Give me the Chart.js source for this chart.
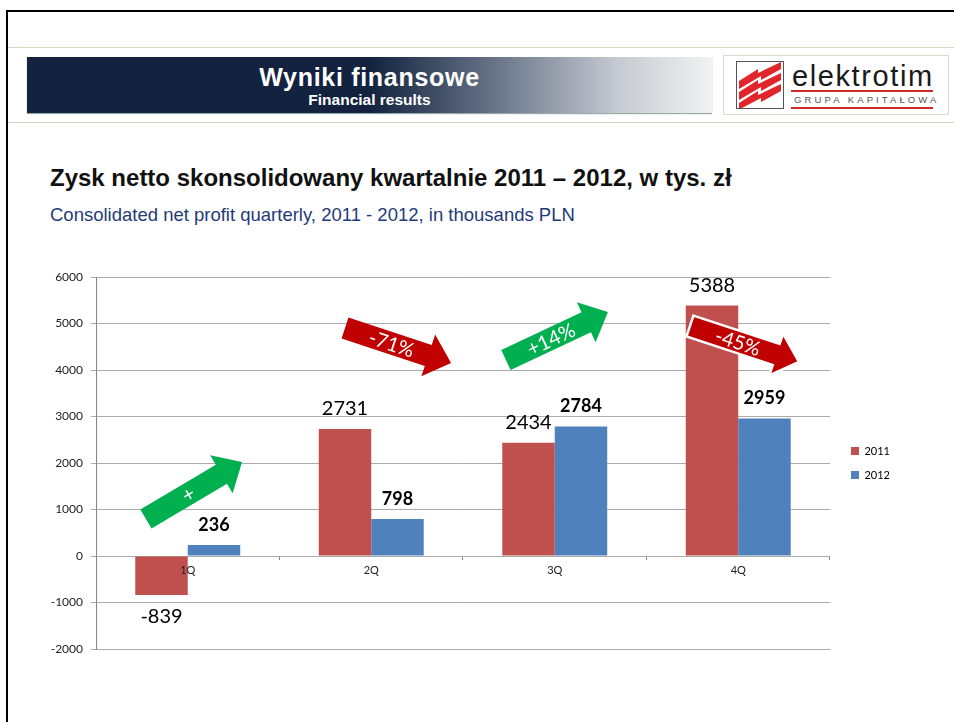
<!DOCTYPE html>
<html>
<head>
<meta charset="utf-8">
<script src="https://cdn.jsdelivr.net/npm/chart.js@4.4.1/dist/chart.umd.min.js"></script>
<style>
  html, body { margin: 0; padding: 0; background: #fff; }
  body { width: 954px; height: 722px; position: relative; overflow: hidden; font-family: "Liberation Sans", Arial, sans-serif; }
  .frame-top { position: absolute; left: 6px; top: 10px; width: 948px; height: 2px; background: #000; }
  .frame-left { position: absolute; left: 6px; top: 10px; width: 2px; height: 712px; background: #000; }
  .rule { position: absolute; left: 8px; width: 946px; height: 1px; background: #d9d5c3; }
  .banner { position: absolute; left: 27px; top: 57px; width: 685px; height: 56px;
    background: linear-gradient(to right, #13233f 0%, #13233f 50%, #6b778a 69%, #c5c9d0 86%, #f2f2f2 100%);
    box-shadow: 0 1px 1px #9aa; color: #fff; text-align: center; }
  .banner .t1 { position: absolute; left: 0; width: 100%; top: 6px; font-size: 25px; font-weight: bold; letter-spacing: 0.7px; line-height: 28px; }
  .banner .t2 { position: absolute; left: 0; width: 100%; top: 34px; font-size: 15.5px; font-weight: bold; line-height: 18px; }
  .logo { position: absolute; left: 723px; top: 55px; width: 224px; height: 58px; border: 1px solid #ddd8c8; background: #fff; }
  .logo svg { position: absolute; left: 12px; top: 5px; }
  .logo .name { position: absolute; left: 68px; top: 4px; font-size: 29px; line-height: 32px; color: #1a1a1a; letter-spacing: 1.6px; }
  .logo .red1 { position: absolute; left: 67px; top: 34px; width: 142px; height: 2px; background: #d42a2a; }
  .logo .red2 { position: absolute; left: 67px; top: 51px; width: 142px; height: 2px; background: #d42a2a; }
  .logo .sub { position: absolute; left: 70px; top: 38px; font-size: 9.5px; line-height: 12px; letter-spacing: 3.1px; color: #555; }
  .title { position: absolute; left: 50px; top: 165px; font-size: 24px; font-weight: bold; line-height: 26px; color: #111; white-space: nowrap; }
  .subtitle { position: absolute; left: 50px; top: 204px; font-size: 18.5px; line-height: 22px; color: #1f3a7a; white-space: nowrap; }
  .chart-box { position: absolute; left: 0; top: 250px; width: 954px; height: 430px; }
</style>
</head>
<body>
<div class="frame-top"></div>
<div class="frame-left"></div>
<div class="rule" style="top:47px"></div>
<div class="rule" style="top:122px"></div>
<div class="banner">
  <div class="t1">Wyniki finansowe</div>
  <div class="t2">Financial results</div>
</div>
<div class="logo">
  <svg width="48" height="48" viewBox="0 0 48 48">
    <rect x="0.5" y="0.5" width="47" height="47" fill="#fff" stroke="#555"/>
    <g fill="#e0262a">
      <polygon points="3,20 22,8 22,12 45,1 45,8 25,19 25,15 3,28"/>
      <polygon points="3,31 22,19 22,23 45,12 45,19 25,30 25,26 3,39"/>
      <polygon points="3,42 22,30 22,34 45,23 45,30 25,41 25,37 6,47 3,47"/>
    </g>
  </svg>
  <div class="name">elektrotim</div>
  <div class="red1"></div>
  <div class="sub">GRUPA KAPITAŁOWA</div>
  <div class="red2"></div>
</div>
<div class="title">Zysk netto skonsolidowany kwartalnie 2011 – 2012, w tys. zł</div>
<div class="subtitle">Consolidated net profit quarterly, 2011 - 2012, in thousands PLN</div>
<div class="chart-box"><canvas id="profitChart"></canvas></div>

<script>
const quarters = ['1Q', '2Q', '3Q', '4Q']
const profit2011 = [-839, 2731, 2434, 5388]
const profit2012 = [236, 798, 2784, 2959]
const yTicks = [-2000, -1000, 0, 1000, 2000, 3000, 4000, 5000, 6000]

// change arrows: [category position, value] for tail and tip
const changeArrows = [
  { from: [-0.228, 796], to: [0.296, 2022], text: '+', color: '#00b050' },
  { from: [0.857, 4903], to: [1.435, 4151], text: '-71%', color: '#c00000' },
  { from: [1.734, 4215], to: [2.290, 5247], text: '+14%', color: '#00b050' },
  { from: [2.737, 4946], to: [3.331, 4172], text: '-45%', color: '#c00000', outline: true }
]

const valueLabels = {
  id: 'valueLabels',
  afterDatasetsDraw(chart) {
    const ctx = chart.ctx
    chart.data.datasets.forEach((ds, i) => {
      chart.getDatasetMeta(i).data.forEach((bar, j) => {
        const v = ds.data[j]
        ctx.save()
        ctx.font = i === 0 ? '20px Lato' : 'bold 18px Lato'
        ctx.fillStyle = '#000'
        ctx.textAlign = 'center'
        ctx.textBaseline = 'middle'
        ctx.fillText(String(v), bar.x, v < 0 ? bar.y + 22 : bar.y - 20)
        ctx.restore()
      })
    })
  }
}

const arrowsPlugin = {
  id: 'arrows',
  afterDatasetsDraw(chart) {
    const ctx = chart.ctx
    const xs = chart.scales.x
    const ys = chart.scales.y
    const p0 = xs.getPixelForValue(0)
    const step = xs.getPixelForValue(1) - p0
    const px = (p) => [p0 + p[0] * step, ys.getPixelForValue(p[1])]

    changeArrows.forEach(a => {
      const [x0, y0] = px(a.from)
      const [x1, y1] = px(a.to)
      const len = Math.hypot(x1 - x0, y1 - y0)
      const bw = 22, hw = 44, hl = 24
      ctx.save()
      ctx.translate(x0, y0)
      ctx.rotate(Math.atan2(y1 - y0, x1 - x0))
      ctx.beginPath()
      ctx.moveTo(0, -bw / 2)
      ctx.lineTo(len - hl, -bw / 2)
      ctx.lineTo(len - hl, -hw / 2)
      ctx.lineTo(len, 0)
      ctx.lineTo(len - hl, hw / 2)
      ctx.lineTo(len - hl, bw / 2)
      ctx.lineTo(0, bw / 2)
      ctx.closePath()
      ctx.fillStyle = a.color
      ctx.fill()
      if (a.outline) {
        ctx.strokeStyle = '#fff'
        ctx.lineWidth = 2.5
        ctx.lineJoin = 'miter'
        ctx.stroke()
      }
      ctx.fillStyle = '#fff'
      ctx.font = '20px Lato'
      ctx.textAlign = 'center'
      ctx.textBaseline = 'middle'
      ctx.fillText(a.text, len * 0.44, 1)
      ctx.restore()
    })
  }
}

new Chart(document.getElementById('profitChart'), {
  type: 'bar',
  data: {
    labels: quarters,
    datasets: [
      { label: '2011', data: profit2011, backgroundColor: '#c0504d', borderWidth: 0 },
      { label: '2012', data: profit2012, backgroundColor: '#4f81bd', borderWidth: 0 }
    ]
  },
  plugins: [valueLabels, arrowsPlugin],
  options: {
    responsive: true,
    maintainAspectRatio: false,
    animation: false,
    devicePixelRatio: 1,
    layout: { padding: { left: 36, top: 27, bottom: 31, right: 54 } },
    datasets: { bar: { categoryPercentage: 0.572, barPercentage: 1.0 } },
    plugins: {
      tooltip: { enabled: false },
      legend: {
        position: 'right',
        align: 'center',
        labels: { boxWidth: 8, boxHeight: 8, padding: 13, color: '#000', font: { family: 'Lato', size: 11 } }
      }
    },
    scales: {
      x: {
        position: { y: 0 },
        z: 1,
        grid: { display: true, offset: true, drawOnChartArea: false, drawTicks: true, tickLength: 4, color: '#868686' },
        border: { display: false },
        ticks: { z: 1, color: '#222', padding: 4, font: { family: 'Lato', size: 11 } }
      },
      y: {
        min: -2000,
        max: 6000,
        afterBuildTicks: (s) => { s.ticks = yTicks.map(v => ({ value: v })) },
        afterFit: (s) => { s.width = 60 },
        grid: { color: '#ababab', lineWidth: 1, tickLength: 5 },
        border: { display: true, color: '#868686' },
        ticks: { color: '#222', padding: 8, font: { family: 'Lato', size: 12 }, callback: (v) => String(v) }
      },
      gap: {
        position: 'right',
        display: true,
        grid: { display: false },
        border: { display: false },
        ticks: { display: false },
        afterFit: (s) => { s.width = 8 }
      }
    }
  }
})
</script>
</body>
</html>
